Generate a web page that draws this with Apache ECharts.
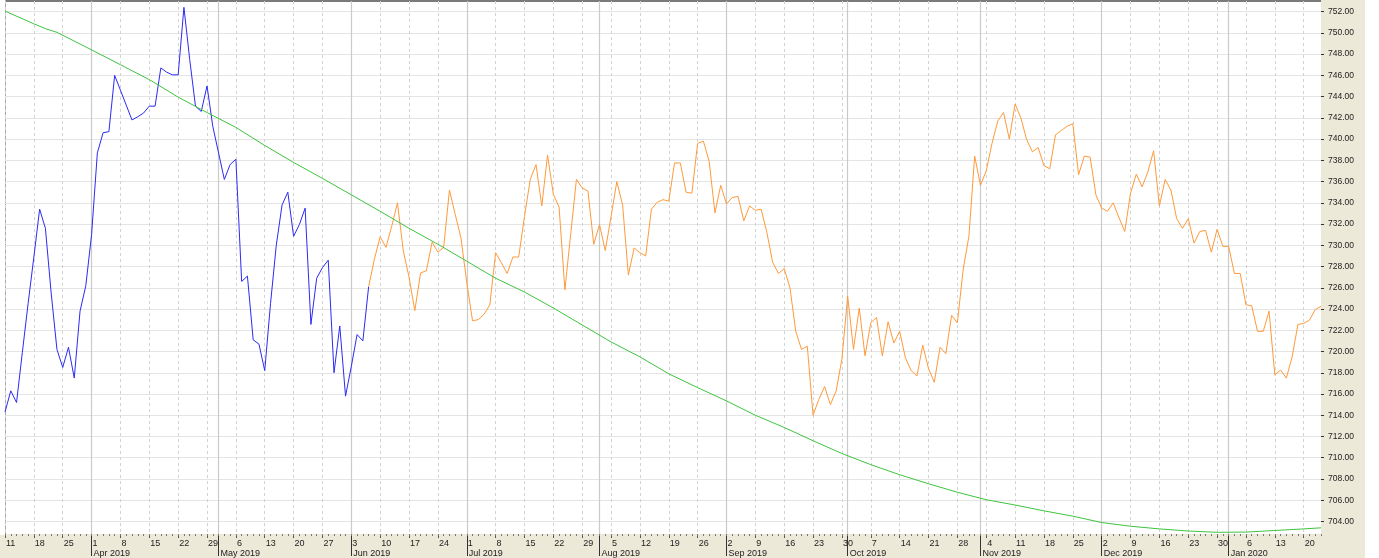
<!DOCTYPE html>
<html><head><meta charset="utf-8">
<script src="https://cdn.jsdelivr.net/npm/echarts@6/dist/echarts.min.js"></script>
<style>html,body{margin:0;padding:0;background:#ECE9D8}#c{width:1379px;height:558px}</style>
</head><body><div id="c"></div>
<script>
// ---- data ----
const startDate = '2019-03-11';
const endDate = '2020-01-23';
const blueValues = [
714.3,716.3,715.2,719.9,724.5,728.9,733.4,731.6,725.5,720.2,
718.5,720.4,717.5,723.8,726.2,731.0,738.7,740.6,740.7,746.0,
744.6,743.2,741.8,742.1,742.45,743.1,743.1,746.7,746.3,746.05,
746.05,752.4,747.5,743.1,742.6,745.0,741.2,738.7,736.2,737.6,
738.1,726.6,727.1,721.1,720.7,718.2,724.5,730.0,733.8,735.0,
730.85,731.95,733.5,722.55,726.9,727.9,728.6,718.0,722.4,715.8,
718.6,721.6,721.0,726.1];
const orangeStartIndex = 63;
const orangeValues = [
726.1,728.7,730.8,729.8,731.8,734.0,729.5,727.0,723.85,727.4,
727.6,730.3,729.35,729.8,735.2,732.9,730.7,726.5,722.9,723.0,
723.5,724.4,729.3,728.35,727.35,728.9,728.9,732.7,736.2,737.6,
733.7,738.5,734.8,733.6,725.8,731.0,736.2,735.4,735.1,730.1,
731.95,729.5,732.7,736.0,733.8,727.2,729.75,729.3,729.0,733.4,
734.05,734.3,734.15,737.75,737.75,735.0,734.9,739.6,739.8,737.9,
733.05,735.65,733.9,734.5,734.6,732.3,733.7,733.3,733.4,731.2,
728.4,727.35,727.8,726.0,721.9,720.2,720.5,714.0,715.5,716.7,
715.0,716.3,719.3,725.2,720.2,724.1,719.6,722.7,723.2,719.6,
722.8,720.8,721.9,719.4,718.2,717.7,720.6,718.4,717.1,720.4,
719.8,723.4,722.7,727.7,730.85,738.4,735.65,737.0,739.6,741.7,
742.5,740.0,743.3,742.0,739.95,738.8,739.2,737.5,737.2,740.4,
740.8,741.2,741.45,736.65,738.4,738.3,734.75,733.5,733.2,734.0,
732.6,731.3,734.9,736.7,735.5,736.9,738.9,733.7,736.2,735.2,
732.5,731.6,732.5,730.2,731.3,731.4,729.35,731.5,729.9,729.9,
727.35,727.35,724.4,724.3,721.9,721.9,723.8,717.8,718.25,717.5,
719.5,722.55,722.65,722.95,723.95,724.25];
const greenDates = ['2019-03-11','2019-03-18','2019-03-20','2019-03-22','2019-04-01','2019-04-08','2019-04-15','2019-04-22','2019-04-29',
'2019-05-06','2019-05-13','2019-05-20','2019-05-27','2019-06-03','2019-06-10','2019-06-17','2019-06-24','2019-07-01','2019-07-08',
'2019-07-15','2019-07-22','2019-07-29','2019-08-05','2019-08-12','2019-08-19','2019-08-26','2019-09-02','2019-09-09','2019-09-16',
'2019-09-23','2019-09-30','2019-10-07','2019-10-14','2019-10-21','2019-10-28','2019-11-04','2019-11-11','2019-11-18','2019-11-25',
'2019-12-02','2019-12-09','2019-12-16','2019-12-23','2019-12-30','2020-01-06','2020-01-13','2020-01-20','2020-01-23'];
const greenValues = [752.05,750.85,750.4,750.05,748.4,747.0,745.6,743.95,742.5,
741.1,739.4,737.8,736.3,734.75,733.2,731.6,730.1,728.5,726.9,
725.6,724.1,722.5,720.9,719.5,717.9,716.6,715.35,714.0,712.85,
711.6,710.4,709.35,708.4,707.55,706.75,706.05,705.55,705.0,704.5,
703.9,703.55,703.3,703.1,702.98,703.0,703.15,703.3,703.4];
const yTickValues = [704,706,708,710,712,714,716,718,720,722,724,726,728,730,732,734,736,738,740,742,744,746,748,750,752];
const monthNames = ['Jan','Feb','Mar','Apr','May','Jun','Jul','Aug','Sep','Oct','Nov','Dec'];

// ---- build categories (weekdays) ----
function pad(n){return (n<10?'0':'')+n;}
function toStr(d){return d.getUTCFullYear()+'-'+pad(d.getUTCMonth()+1)+'-'+pad(d.getUTCDate());}
const dates = [];
(function(){
  let d = new Date(startDate+'T00:00:00Z'); const e = new Date(endDate+'T00:00:00Z');
  while (d <= e) { const w = d.getUTCDay(); if (w !== 0 && w !== 6) dates.push(toStr(d)); d = new Date(d.getTime()+86400000); }
})();
const isMonday = (i, v) => new Date(dates[i]+'T00:00:00Z').getUTCDay() === 1;
const isMonthStart = (i, v) => i > 0 && dates[i].slice(5,7) !== dates[i-1].slice(5,7);

const blueData = dates.map((d,i) => i < blueValues.length ? blueValues[i] : null);
const orangeData = dates.map((d,i) => (i >= orangeStartIndex && i - orangeStartIndex < orangeValues.length) ? orangeValues[i - orangeStartIndex] : null);
const greenData = greenDates.map((d,i) => [d, greenValues[i]]);

const font = 'Liberation Sans';
const chart = echarts.init(document.getElementById('c'), null, {renderer:'canvas'});
chart.setOption({
  animation: false,
  backgroundColor: '#ECE9D8',
  grid: {left: 5, right: 58, top: 1, bottom: 23, show: true, backgroundColor: '#ffffff', borderWidth: 0},
  xAxis: [
    {type:'category', data: dates, boundaryGap:false, position:'bottom',
     axisLine:{show:false, onZero:false},
     axisTick:{show:true, interval:isMonday, length:4, lineStyle:{color:'#555'}},
     axisLabel:{interval:isMonday, formatter:v => String(parseInt(v.slice(8),10)), align:'left', margin:5, padding:[0,0,0,1],
                fontSize:9, fontFamily:font, color:'#222'},
     splitLine:{show:true, interval:isMonday, lineStyle:{color:'#d2d2d2', type:[3,3], width:1}}},
    {type:'category', data: dates, boundaryGap:false, position:'bottom',
     axisLine:{show:false, onZero:false},
     axisTick:{show:true, interval:isMonthStart, length:22, lineStyle:{color:'#333'}},
     axisLabel:{interval:isMonthStart, formatter:v => monthNames[parseInt(v.slice(5,7),10)-1]+' '+v.slice(0,4),
                align:'left', margin:15, padding:[0,0,0,2], fontSize:9, fontFamily:font, color:'#222'},
     splitLine:{show:true, interval:isMonthStart, lineStyle:{color:'#cacaca', width:1.2}}},
    {type:'category', data: dates, boundaryGap:false, position:'bottom',
     axisLine:{show:false, onZero:false},
     axisTick:{show:true, interval:0, length:2, lineStyle:{color:'#777'}},
     axisLabel:{show:false}, splitLine:{show:false}}
  ],
  yAxis: {type:'value', position:'right', min:702.82, max:753.0, scale:true,
    axisLine:{show:false},
    axisTick:{show:true, length:3, customValues:yTickValues, lineStyle:{color:'#333'}},
    axisLabel:{customValues:yTickValues, formatter:v => v.toFixed(2), margin:7, fontSize:8.5, fontFamily:font, color:'#222'},
    splitLine:{show:true, lineStyle:{color:'#e4e4e4', width:1}}},
  series: [
    {name:'blue', type:'line', xAxisIndex:0, data:blueData, symbol:'none', connectNulls:false,
     lineStyle:{color:'#2b2bf5', width:1}},
    {name:'orange', type:'line', xAxisIndex:0, data:orangeData, symbol:'none', connectNulls:false,
     lineStyle:{color:'#ff9a3a', width:1}},
    {name:'green', type:'line', xAxisIndex:0, data:greenData, symbol:'none',
     lineStyle:{color:'#3ec43e', width:1}}
  ],
  graphic: [
    {type:'rect', shape:{x:0, y:0, width:5, height:535}, style:{fill:'#ffffff'}, silent:true},
    {type:'rect', shape:{x:1365, y:0, width:14, height:558}, style:{fill:'#ffffff'}, silent:true},
    {type:'line', shape:{x1:5, y1:1, x2:1321, y2:1}, style:{stroke:'#7a7a7a', lineWidth:2}, silent:true},
    {type:'line', shape:{x1:5.5, y1:0, x2:5.5, y2:535}, style:{stroke:'#a8a8a8', lineWidth:1}, silent:true}
  ]
});
</script></body></html>
